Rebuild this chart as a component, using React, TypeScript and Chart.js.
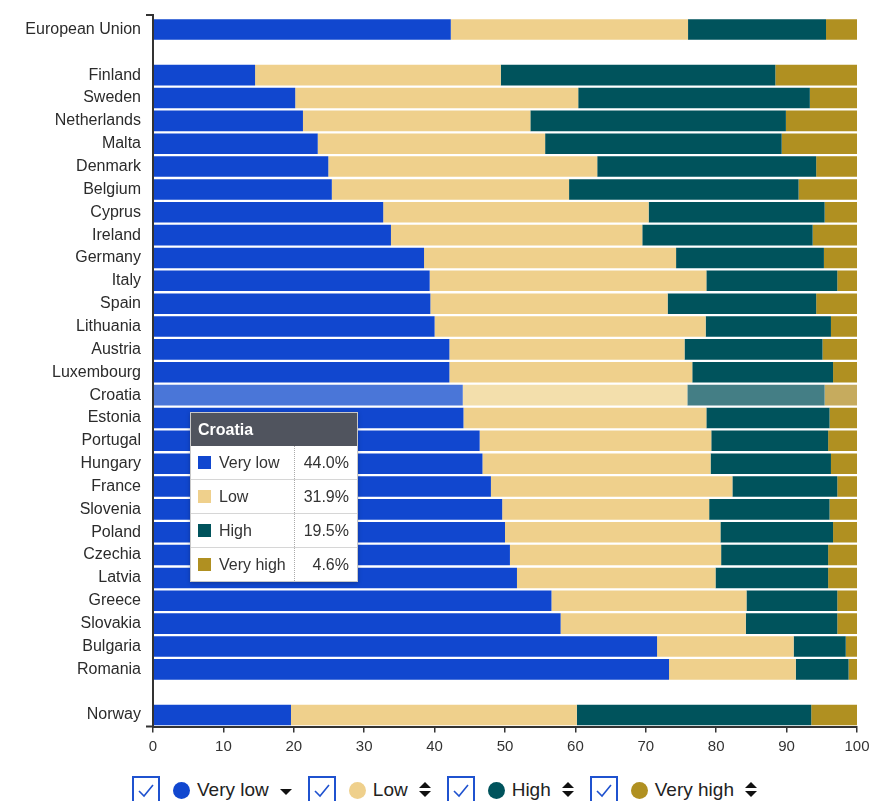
import React, { useEffect, useRef } from "react";
import { Chart, registerables } from "chart.js";
Chart.register(...registerables);

const categories = [
  "European Union", "", "Finland", "Sweden", "Netherlands", "Malta", "Denmark", "Belgium",
  "Cyprus", "Ireland", "Germany", "Italy", "Spain", "Lithuania", "Austria", "Luxembourg",
  "Croatia", "Estonia", "Portugal", "Hungary", "France", "Slovenia", "Poland", "Czechia",
  "Latvia", "Greece", "Slovakia", "Bulgaria", "Romania", "", "Norway",
];
const veryLow = [42.3, null, 14.5, 20.2, 21.3, 23.4, 24.9, 25.4, 32.7, 33.8, 38.5, 39.3, 39.4, 40.0, 42.1, 42.1, 44.0, 44.1, 46.4, 46.8, 48.0, 49.6, 50.0, 50.7, 51.7, 56.6, 57.9, 71.6, 73.3, null, 19.6];
const low = [33.7, null, 34.9, 40.2, 32.3, 32.3, 38.2, 33.7, 37.7, 35.7, 35.8, 39.3, 33.7, 38.5, 33.4, 34.5, 31.9, 34.5, 32.9, 32.4, 34.3, 29.4, 30.6, 30.0, 28.2, 27.7, 26.3, 19.4, 18.0, null, 40.6];
const high = [19.6, null, 39.0, 32.9, 36.3, 33.6, 31.1, 32.6, 25.0, 24.2, 21.0, 18.6, 21.1, 17.8, 19.6, 20.0, 19.5, 17.5, 16.6, 17.1, 14.9, 17.1, 16.0, 15.2, 16.0, 12.9, 13.0, 7.4, 7.5, null, 33.3];
const veryHigh = [4.4, null, 11.6, 6.7, 10.1, 10.7, 5.8, 8.3, 4.6, 6.3, 4.7, 2.8, 5.8, 3.7, 4.9, 3.4, 4.6, 3.9, 4.1, 3.7, 2.8, 3.9, 3.4, 4.1, 4.1, 2.8, 2.8, 1.6, 1.2, null, 6.5];
const xTicks = [0, 10, 20, 30, 40, 50, 60, 70, 80, 90, 100];

const seriesNames = ["Very low", "Low", "High", "Very high"];
const seriesColors = ["#1147cf", "#efd08c", "#00535c", "#b09021"];
const highlightColors = ["#4a76d8", "#f3dfac", "#447e85", "#c6ab5e"];
const highlighted = "Croatia";

const FONT = "'Liberation Sans', Arial, sans-serif";

function Checkbox() {
  return (
    <svg width="28" height="28" viewBox="0 0 28 28" style={{ display: "block" }}>
      <rect x="1" y="1" width="26" height="26" fill="#fff" stroke="#1f52cf" strokeWidth="2" />
      <polyline points="7,15 12,20 21,9" fill="none" stroke="#1f52cf" strokeWidth="1.6" />
    </svg>
  );
}

function SortIcon({ onlyDown }: { onlyDown: boolean }) {
  return onlyDown ? (
    <svg width="12" height="16" viewBox="0 0 12 16" style={{ display: "block" }}>
      <polygon points="0,7 12,7 6,13" fill="#111" />
    </svg>
  ) : (
    <svg width="12" height="18" viewBox="0 0 12 18" style={{ display: "block" }}>
      <polygon points="0,7 12,7 6,1" fill="#111" />
      <polygon points="0,10 12,10 6,16" fill="#111" />
    </svg>
  );
}

export default function App() {
  const ref = useRef<HTMLCanvasElement>(null);
  useEffect(() => {
    if (!ref.current) return;
    const hi = categories.indexOf(highlighted);
    const values = [veryLow, low, high, veryHigh];
    const outerTicks = {
      id: "outerTicks",
      afterDraw(chart: any) {
        const { ctx, chartArea } = chart;
        ctx.save();
        ctx.strokeStyle = "#333";
        ctx.lineWidth = 2;
        ctx.beginPath();
        ctx.moveTo(chartArea.left - 7, chartArea.top - 3);
        ctx.lineTo(chartArea.left, chartArea.top - 3);
        ctx.lineTo(chartArea.left, chartArea.bottom);
        ctx.moveTo(chartArea.left - 7, chartArea.bottom);
        ctx.lineTo(chartArea.left, chartArea.bottom);
        ctx.stroke();
        ctx.restore();
      },
    };
    const chart = new Chart(ref.current, {
      type: "bar",
      data: {
        labels: categories,
        datasets: values.map((v, s) => ({
          label: seriesNames[s],
          data: v,
          backgroundColor: categories.map((_, i) => (i === hi ? highlightColors[s] : seriesColors[s])),
          borderWidth: 0,
          barPercentage: 0.9,
          categoryPercentage: 1,
        })),
      },
      options: {
        indexAxis: "y",
        animation: false,
        responsive: false,
        maintainAspectRatio: false,
        layout: { padding: { top: 10, right: 24, left: 0, bottom: 0 } },
        plugins: { legend: { display: false }, tooltip: { enabled: false } },
        scales: {
          x: {
            stacked: true,
            min: 0,
            max: 100,
            afterBuildTicks: (scale: any) => {
              scale.ticks = xTicks.map((v) => ({ value: v }));
            },
            afterFit: (scale: any) => {
              scale.height = 33.5;
              scale.paddingLeft = 0;
              scale.paddingRight = 0;
            },
            grid: { display: true, drawOnChartArea: false, drawTicks: true, tickLength: 6, color: "#333", lineWidth: 1.5 },
            border: { display: true, color: "#333", width: 2 },
            ticks: { color: "#333", font: { family: FONT, size: 15 }, padding: 5 },
          },
          y: {
            stacked: true,
            afterFit: (scale: any) => {
              scale.width = 145;
              scale.paddingTop = 0;
              scale.paddingBottom = 0;
            },
            grid: { display: false, drawTicks: false },
            border: { display: false },
            ticks: { autoSkip: false, color: "#2b2b2b", font: { family: FONT, size: 16 }, padding: 12 },
          },
        },
      },
      plugins: [outerTicks],
    } as any);
    return () => chart.destroy();
  }, []);

  const hiIdx = categories.indexOf(highlighted);
  const hiVals = [veryLow[hiIdx], low[hiIdx], high[hiIdx], veryHigh[hiIdx]];

  return (
    <div style={{ width: 873, fontFamily: FONT }}>
      <div style={{ position: "relative", width: 873, height: 752 }}>
        <canvas ref={ref} width={873} height={752} style={{ display: "block" }} />
        <div
          style={{
            position: "absolute",
            left: 182,
            top: 404,
            width: 166,
            background: "#fff",
            border: "1px solid #c8c8c8",
            boxShadow: "0 1px 4px rgba(0,0,0,0.25)",
            color: "#333",
            fontSize: 16,
          }}
        >
          <div
            style={{
              background: "#50545e",
              color: "#fff",
              fontWeight: "bold",
              height: 33,
              lineHeight: "33px",
              paddingLeft: 7,
            }}
          >
            {highlighted}
          </div>
          {seriesNames.map((n, i) => (
            <div
              key={n}
              style={{
                display: "flex",
                height: 33,
                alignItems: "center",
                borderTop: i === 0 ? "none" : "1px solid #d6d6d6",
              }}
            >
              <div style={{ width: 103, display: "flex", alignItems: "center", height: "100%" }}>
                <div style={{ width: 13, height: 13, background: seriesColors[i], marginLeft: 7, marginRight: 8 }} />
                <span>{n}</span>
              </div>
              <div
                style={{
                  flex: 1,
                  height: "100%",
                  borderLeft: "1px dotted #aaa",
                  display: "flex",
                  alignItems: "center",
                  justifyContent: "flex-end",
                  paddingRight: 8,
                }}
              >
                {(hiVals[i] as number).toFixed(1)}%
              </div>
            </div>
          ))}
        </div>
      </div>
      <div
        style={{
          display: "flex",
          alignItems: "center",
          marginTop: 16,
          marginLeft: 124,
          fontSize: 19,
          color: "#222",
        }}
      >
        {seriesNames.map((n, i) => (
          <div key={n} style={{ display: "flex", alignItems: "center", marginRight: 16 }}>
            <Checkbox />
            <div
              style={{
                width: 17,
                height: 17,
                borderRadius: "50%",
                background: seriesColors[i],
                marginLeft: 13,
                marginRight: 7,
              }}
            />
            <span style={{ marginRight: 11 }}>{n}</span>
            <SortIcon onlyDown={i === 0} />
          </div>
        ))}
      </div>
    </div>
  );
}
